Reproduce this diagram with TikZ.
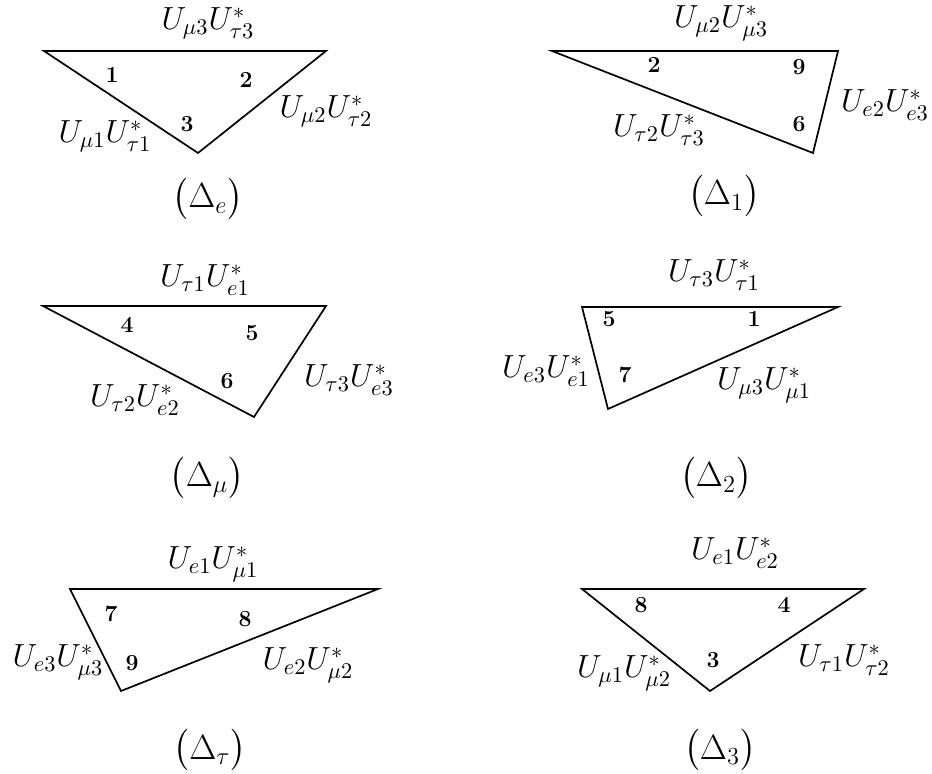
\RequirePackage{fix-cm}
\documentclass[tikz,border=0pt]{standalone}
\usepackage{amsmath}
\begin{document}
\begin{tikzpicture}[x=0.5pt,y=-0.5pt,
  lbl/.style={anchor=base,inner sep=0pt,font=\fontsize{16}{19}\selectfont},
  num/.style={anchor=base,inner sep=0pt,font=\fontsize{11.5}{13}\selectfont\bfseries},
  captxt/.style={anchor=base,inner sep=0pt,font=\fontsize{17.5}{21}\selectfont},
  tri/.style={line width=0.85pt,line join=miter}]
\useasboundingbox (0,0) rectangle (932,774);

% Delta_e
\coordinate (ea) at (44,51); \coordinate (eb) at (326,51); \coordinate (ec) at (198,153);
\draw[tri] (ea) -- (eb) -- (ec) -- cycle;
\node[lbl] (eT) at (208,30) {$U_{\mu3}U^*_{\tau3}$};
\node[lbl] (eL) at (105,143) {$U_{\mu1}U^*_{\tau1}$};
\node[lbl] (eR) at (326,118) {$U_{\mu2}U^*_{\tau2}$};
\node[num] (e1) at (112,83) {1};
\node[num] (e2) at (246,88) {2};
\node[num] (e3) at (187,132) {3};
\node[captxt] (eC) at (208,208) {$\bigl(\Delta_e\bigr)$};

% Delta_1
\coordinate (1a) at (552,51); \coordinate (1b) at (838,51); \coordinate (1c) at (813,153);
\draw[tri] (1a) -- (1b) -- (1c) -- cycle;
\node[lbl] (1T) at (721,28) {$U_{\mu2}U^*_{\mu3}$};
\node[lbl] (1L) at (659,137) {$U_{\tau2}U^*_{\tau3}$};
\node[lbl] (1R) at (885,112) {$U_{e2}U^*_{e3}$};
\node[num] (12) at (654,73) {2};
\node[num] (19) at (799,75) {9};
\node[num] (16) at (799,132) {6};
\node[captxt] (1C) at (724,205) {$\bigl(\Delta_1\bigr)$};

% Delta_mu
\coordinate (ma) at (43,306); \coordinate (mb) at (326,306); \coordinate (mc) at (254,417);
\draw[tri] (ma) -- (mb) -- (mc) -- cycle;
\node[lbl] (mT) at (205,287) {$U_{\tau1}U^*_{e1}$};
\node[lbl] (mL) at (135,407) {$U_{\tau2}U^*_{e2}$};
\node[lbl] (mR) at (349,387) {$U_{\tau3}U^*_{e3}$};
\node[num] (m4) at (127,333) {4};
\node[num] (m5) at (252,341) {5};
\node[num] (m6) at (227,389) {6};
\node[captxt] (mC) at (207,487) {$\bigl(\Delta_\mu\bigr)$};

% Delta_2
\coordinate (2a) at (582,307); \coordinate (2b) at (838,307); \coordinate (2c) at (608,409);
\draw[tri] (2a) -- (2b) -- (2c) -- cycle;
\node[lbl] (2T) at (714,282) {$U_{\tau3}U^*_{\tau1}$};
\node[lbl] (2L) at (546,378) {$U_{e3}U^*_{e1}$};
\node[lbl] (2R) at (764,390) {$U_{\mu3}U^*_{\mu1}$};
\node[num] (25) at (609,327) {5};
\node[num] (21) at (754,327) {1};
\node[num] (27) at (625,383) {7};
\node[captxt] (2C) at (716,487) {$\bigl(\Delta_2\bigr)$};

% Delta_tau
\coordinate (ta) at (70,589); \coordinate (tb) at (378,589); \coordinate (tc) at (121,691);
\draw[tri] (ta) -- (tb) -- (tc) -- cycle;
\node[lbl] (tT) at (213,569) {$U_{e1}U^*_{\mu1}$};
\node[lbl] (tL) at (58,667) {$U_{e3}U^*_{\mu3}$};
\node[lbl] (tR) at (308,670) {$U_{e2}U^*_{\mu2}$};
\node[num] (t7) at (111,622) {7};
\node[num] (t8) at (245,627) {8};
\node[num] (t9) at (132,671) {9};
\node[captxt] (tC) at (210,759) {$\bigl(\Delta_\tau\bigr)$};

% Delta_3
\coordinate (3a) at (582,589); \coordinate (3b) at (864,589); \coordinate (3c) at (710,691);
\draw[tri] (3a) -- (3b) -- (3c) -- cycle;
\node[lbl] (3T) at (735,560) {$U_{e1}U^*_{e2}$};
\node[lbl] (3L) at (624,678) {$U_{\mu1}U^*_{\mu2}$};
\node[lbl] (3R) at (844,667) {$U_{\tau1}U^*_{\tau2}$};
\node[num] (38) at (641,613) {8};
\node[num] (34) at (784,613) {4};
\node[num] (33) at (713,668) {3};
\node[captxt] (3C) at (720,759) {$\bigl(\Delta_3\bigr)$};
\end{tikzpicture}
\end{document}
